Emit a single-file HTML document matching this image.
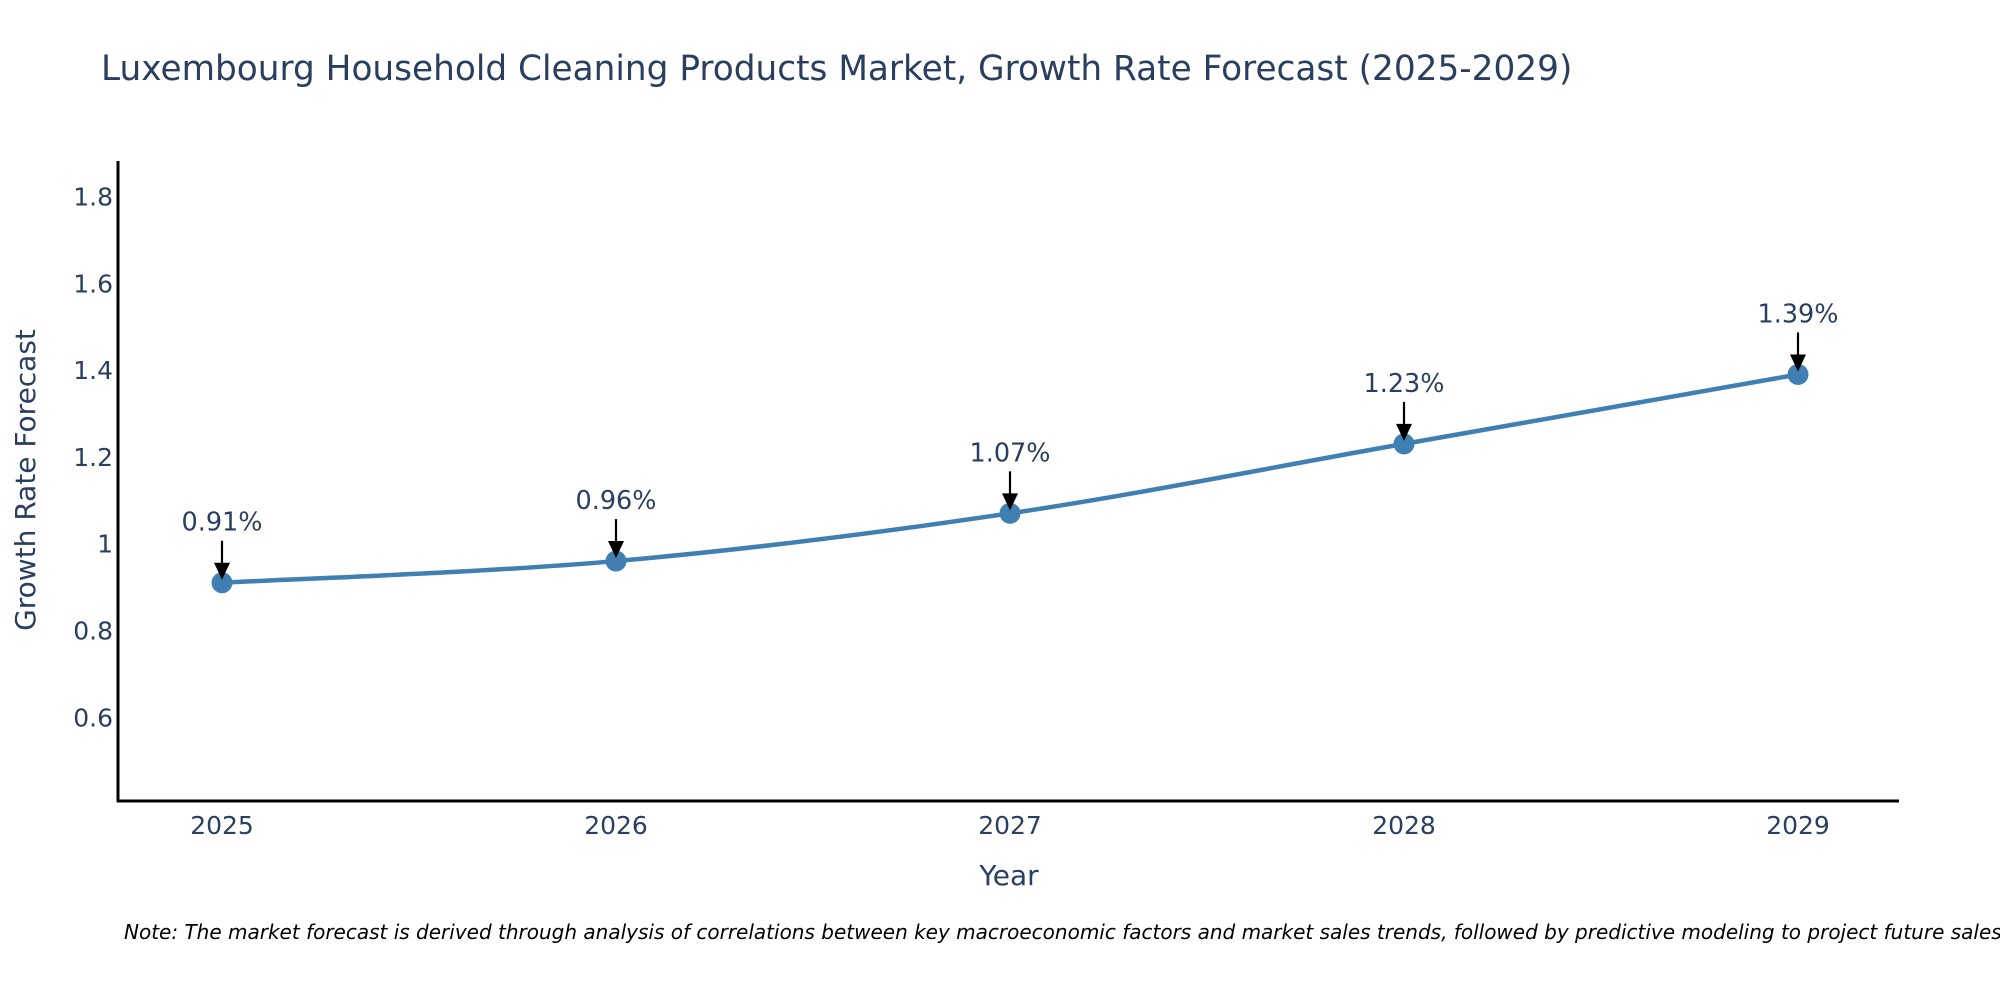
<!DOCTYPE html>
<html><head><meta charset="utf-8"><style>
html,body{margin:0;padding:0;background:#fff;}
svg{display:block;font-family:"DejaVu Sans","Liberation Sans",sans-serif;}
</style></head><body>
<svg id="chart" width="2000" height="1000" viewBox="0 0 2000 1000">
<text x="101" y="80" font-size="34.3" fill="#2a3f5f">Luxembourg Household Cleaning Products Market, Growth Rate Forecast (2025-2029)</text>
<g id="yticks"></g>
<g id="xticks"></g>
<line x1="118" y1="161" x2="118" y2="802" stroke="#000" stroke-width="3"/>
<line x1="117" y1="801" x2="1899" y2="801" stroke="#000" stroke-width="3"/>
<text transform="translate(35,480) rotate(-90)" text-anchor="middle" font-size="28" fill="#2a3f5f">Growth Rate Forecast</text>
<text x="1009" y="885" text-anchor="middle" font-size="28" fill="#2a3f5f">Year</text>
<g id="series"></g>
<g id="annots"></g>
<text x="124" y="939" font-size="20" font-style="italic" fill="#000">Note: The market forecast is derived through analysis of correlations between key macroeconomic factors and market sales trends, followed by predictive modeling to project future sales.</text>
</svg>
<script>
const years = [2025, 2026, 2027, 2028, 2029];
const values = [0.91, 0.96, 1.07, 1.23, 1.39];
const labels = ["0.91%", "0.96%", "1.07%", "1.23%", "1.39%"];
const yTicks = [0.6, 0.8, 1, 1.2, 1.4, 1.6, 1.8];
const yTickLabels = ["0.6", "0.8", "1", "1.2", "1.4", "1.6", "1.8"];

const NS = "http://www.w3.org/2000/svg";
const yMin = 0.407, yMax = 1.882, yTop = 161, yBot = 801;
function yS(v){ return yBot - (v - yMin) / (yMax - yMin) * (yBot - yTop); }
function xS(yr){ return 222 + (yr - 2025) * 394; }
function mk(tag, attrs, parent){ const e = document.createElementNS(NS, tag); for (const k in attrs) e.setAttribute(k, attrs[k]); parent.appendChild(e); return e; }

const yt = document.getElementById('yticks');
yTicks.forEach((v, i) => {
  const t = mk('text', {x: 113, y: yS(v) + 9, 'text-anchor': 'end', 'font-size': 25, fill: '#2a3f5f'}, yt);
  
  
  t.textContent = yTickLabels[i];
});
const xt = document.getElementById('xticks');
years.forEach(yr => {
  const t = mk('text', {x: xS(yr), y: 834, 'text-anchor': 'middle', 'font-size': 25, fill: '#2a3f5f'}, xt);
  
  
  t.textContent = String(yr);
});

const pts = years.map((yr, i) => [xS(yr), yS(values[i])]);
let d = "M" + pts[0][0] + "," + pts[0][1];
const s = 1/6;
for (let i = 0; i < pts.length - 1; i++) {
  const p0 = pts[Math.max(0, i-1)], p1 = pts[i], p2 = pts[i+1], p3 = pts[Math.min(pts.length-1, i+2)];
  const c1 = [p1[0] + (p2[0]-p0[0])*s, p1[1] + (p2[1]-p0[1])*s];
  const c2 = [p2[0] - (p3[0]-p1[0])*s, p2[1] - (p3[1]-p1[1])*s];
  d += " C" + c1.join(",") + " " + c2.join(",") + " " + p2.join(",");
}
const sg = document.getElementById('series');
const line = mk('path', {d: d, fill: 'none', stroke: '#3f7fb1', 'stroke-width': 4.5}, sg);


pts.forEach(p => {
  const c = mk('circle', {cx: p[0], cy: p[1], r: 10.5, fill: '#3f7fb1'}, sg);
  
  
});

const an = document.getElementById('annots');
pts.forEach((p, i) => {
  const l = mk('line', {x1: p[0], y1: p[1] - 42, x2: p[0], y2: p[1] - 16, stroke: '#000', 'stroke-width': 2.2}, an);
  
  
  const h = mk('polygon', {points: (p[0]-8)+","+(p[1]-20)+" "+(p[0]+8)+","+(p[1]-20)+" "+p[0]+","+(p[1]-3), fill: '#000'}, an);
  
  
  const t = mk('text', {x: p[0], y: p[1] - 52, 'text-anchor': 'middle', 'font-size': 25.5, fill: '#2a3f5f'}, an);
  
  
  t.textContent = labels[i];
});
</script>
</body></html>
